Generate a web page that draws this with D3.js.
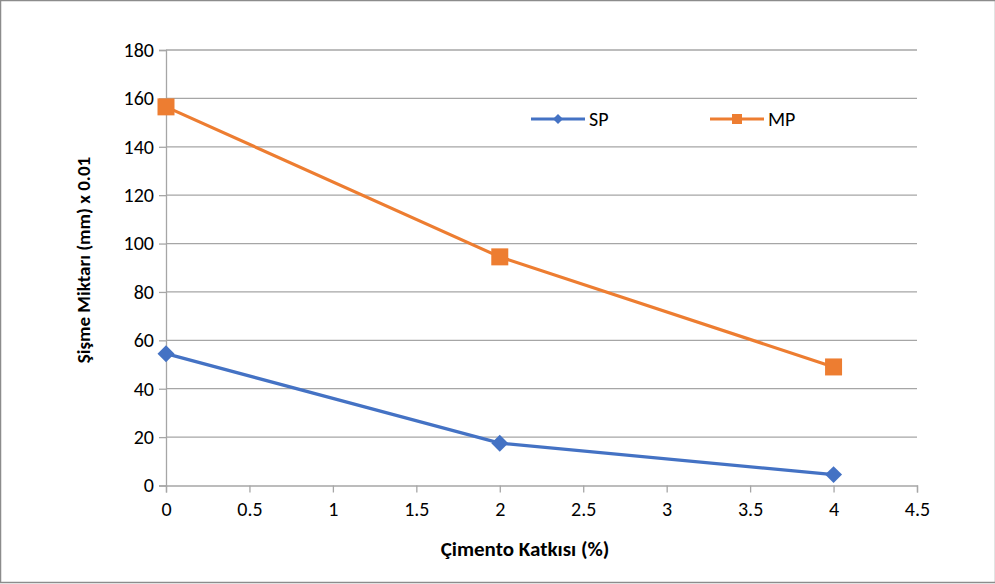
<!DOCTYPE html>
<html>
<head>
<meta charset="utf-8">
<script src="https://cdn.jsdelivr.net/npm/d3@7"></script>
<style>
  body { margin: 0; background: #fff; }
  text { font-family: Carlito, Lato, "Liberation Sans", sans-serif; fill: #000; }
</style>
</head>
<body>
<div id="chart"></div>
<script>
// data
var katki = [0, 2, 4];
var sp = [54.5, 17.5, 4.5];
var mp = [156.5, 94.5, 49];
var xTicks = [0, 0.5, 1, 1.5, 2, 2.5, 3, 3.5, 4, 4.5];
var yTicks = [0, 20, 40, 60, 80, 100, 120, 140, 160, 180];
var seriesNames = ["SP", "MP"];
var seriesColors = ["#4472c4", "#ed7d31"];

var W = 995, H = 584;
var svg = d3.select("#chart").append("svg")
    .attr("width", W)
    .attr("height", H);

// outer border
svg.append("rect")
    .attr("x", 0.5).attr("y", 0.5)
    .attr("width", 995).attr("height", 582)
    .attr("fill", "#fff")
    .attr("stroke", "#8c8c8c")
    .attr("stroke-width", 1.5);

var x = d3.scaleLinear().domain([0, 4.5]).range([166, 917]);
var y = d3.scaleLinear().domain([0, 180]).range([485.5, 50]);

// gridlines
svg.append("g").selectAll("line")
    .data(yTicks.slice(1))
    .enter().append("line")
    .attr("x1", x(0)).attr("x2", x(4.5))
    .attr("y1", function (d) { return y(d); })
    .attr("y2", function (d) { return y(d); })
    .attr("stroke", "#a6a6a6")
    .attr("stroke-width", 1.3);

// y axis
var yAxis = d3.axisLeft(y).tickValues(yTicks).tickSize(7).tickPadding(5)
    .tickFormat(d3.format("d"));
var gy = svg.append("g").attr("transform", "translate(" + x(0) + ",0)").call(yAxis);
gy.select(".domain").attr("stroke", "#a6a6a6").attr("stroke-width", 1.3);
gy.selectAll(".tick line").attr("stroke", "#a6a6a6").attr("stroke-width", 1.3);
gy.selectAll(".tick text").style("font-size", "20px");

// x axis
var xAxis = d3.axisBottom(x).tickValues(xTicks).tickSize(7).tickPadding(9)
    .tickFormat(function (d) { return String(d); });
var gx = svg.append("g").attr("transform", "translate(0," + y(0) + ")").call(xAxis);
gx.select(".domain").attr("stroke", "#a6a6a6").attr("stroke-width", 1.3);
gx.selectAll(".tick line").attr("stroke", "#a6a6a6").attr("stroke-width", 1.3);
gx.selectAll(".tick text").style("font-size", "20px");
gy.attr("font-family", null);
gx.attr("font-family", null);

// axis titles
svg.append("text")
    .attr("x", 525)
    .attr("y", 556)
    .attr("text-anchor", "middle")
    .style("font-size", "21px")
    .style("font-weight", "bold")
    .text("Çimento Katkısı (%)");

svg.append("text")
    .attr("transform", "translate(90,260) rotate(-90)")
    .attr("text-anchor", "middle")
    .style("font-size", "19px")
    .style("font-weight", "bold")
    .text("Şişme Miktarı (mm) x 0.01");

var line = d3.line()
    .x(function (d) { return x(d[0]); })
    .y(function (d) { return y(d[1]); });

var allSeries = [sp, mp];
// diamond = square turned 45 degrees
var markerSizes = [144, 289];
var markerRot = [45, 0];

allSeries.forEach(function (vals, i) {
    var pts = katki.map(function (k, j) { return [k, vals[j]]; });
    svg.append("path")
        .datum(pts)
        .attr("d", line)
        .attr("fill", "none")
        .attr("stroke", seriesColors[i])
        .attr("stroke-width", 3.2);
    svg.append("g").selectAll("path")
        .data(pts)
        .enter().append("path")
        .attr("transform", function (d) {
            return "translate(" + x(d[0]) + "," + y(d[1]) + ") rotate(" + markerRot[i] + ")";
        })
        .attr("d", d3.symbol().type(d3.symbolSquare).size(markerSizes[i]))
        .attr("fill", seriesColors[i]);
});

// legend
var legendX = [531, 710];
seriesNames.forEach(function (name, i) {
    var g = svg.append("g").attr("transform", "translate(" + legendX[i] + ",119)");
    g.append("line")
        .attr("x1", 0).attr("x2", 54)
        .attr("stroke", seriesColors[i])
        .attr("stroke-width", 3.2);
    g.append("path")
        .attr("transform", "translate(27,0) rotate(" + markerRot[i] + ")")
        .attr("d", d3.symbol().type(d3.symbolSquare).size(i === 0 ? 50 : 100))
        .attr("fill", seriesColors[i]);
    g.append("text")
        .attr("x", 58).attr("y", 7)
        .style("font-size", "20px")
        .text(name);
});
</script>
</body>
</html>
